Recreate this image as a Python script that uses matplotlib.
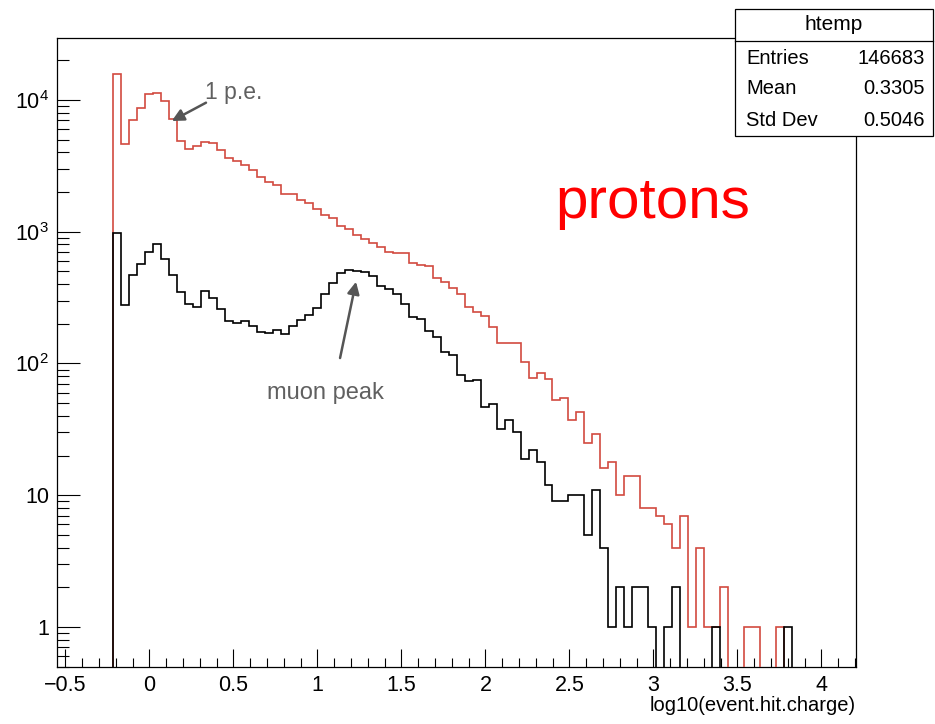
import numpy as np
import matplotlib
matplotlib.use('Agg')
import matplotlib.pyplot as plt
from matplotlib.ticker import (FixedLocator, FixedFormatter, MultipleLocator, LogLocator,
                               NullFormatter, FuncFormatter)
from matplotlib.patches import Rectangle
from matplotlib.lines import Line2D

FONT = 'Liberation Sans'
plt.rcParams['font.family'] = [FONT, 'DejaVu Sans']
plt.rcParams['mathtext.fontset'] = 'custom'
plt.rcParams['mathtext.rm'] = FONT
plt.rcParams['mathtext.it'] = FONT + ':italic'
plt.rcParams['mathtext.bf'] = FONT + ':bold'

# ---------------- data ----------------
n_bins = 100
x_min, x_max = -0.548, 4.206
first_bin = 7  # index of first filled bin

proton_counts = [15700, 4620, 7030, 8730, 11000, 11350, 9870, 7120, 4900, 4260,
                 4490, 4820, 4730, 4170, 3610, 3440, 3190, 2940, 2610, 2380,
                 2250, 1930, 1930, 1740, 1660, 1500, 1330, 1270, 1100, 1040,
                 942, 873, 824, 768, 704, 691, 684, 581, 558, 551,
                 442, 414, 377, 334, 266, 247, 231, 190, 144, 144,
                 144, 103, 77, 84, 76, 53, 55, 37, 43, 25,
                 29, 16, 18, 10, 14, 14, 8, 8, 7, 6,
                 4, 7, 1, 4, 1, 1, 2, 0, 0, 1,
                 1, 0, 0, 1, 0]

muon_counts = [971, 276, 471, 565, 700, 800, 622, 471, 348, 282,
               266, 356, 315, 257, 211, 203, 211, 193, 173, 169,
               180, 166, 191, 213, 234, 263, 334, 409, 490, 515,
               505, 496, 460, 386, 369, 336, 282, 226, 217, 176,
               160, 123, 115, 82, 73, 75, 47, 49, 32, 37,
               30, 19, 22, 18, 12, 9, 9, 10, 10, 5,
               11, 4, 1, 2, 1, 2, 2, 1, 0, 1,
               2, 0, 0, 0, 0, 1, 0, 0, 0, 0,
               0, 0, 0, 0, 1]

y_tick_values = [1, 10, 100, 1000, 10000]
y_tick_labels = ['1', '10', '$10^{2}$', '$10^{3}$', '$10^{4}$']
x_label = 'log10(event.hit.charge)'

stats_title = 'htemp'
stats_names = ['Entries', 'Mean', 'Std Dev']
stats_values = ['146683', '0.3305', '0.5046']

# ---------------- build histograms ----------------
edges = np.linspace(x_min, x_max, n_bins + 1)
red = np.zeros(n_bins)
red[first_bin:first_bin + len(proton_counts)] = proton_counts
blk = np.zeros(n_bins)
blk[first_bin:first_bin + len(muon_counts)] = muon_counts

floor = 1e-3  # empty bins drawn below the visible range (log axis)

W, H = 935, 724
fig = plt.figure(figsize=(W / 100, H / 100), dpi=100)
ax_left, ax_right = 57.3 / W, 856 / W
ax_bottom, ax_top = 1 - 666.7 / H, 1 - 38 / H
ax = fig.add_axes([ax_left, ax_bottom, ax_right - ax_left, ax_top - ax_bottom])

ax.stairs(np.where(red > 0, red, floor), edges, color='#d24a40', lw=1.2, baseline=None, zorder=3)
ax.stairs(np.where(blk > 0, blk, floor), edges, color='black', lw=1.2, baseline=None, zorder=4)

ax.set_yscale('log')
ax.set_xlim(x_min, x_max)
ax.set_ylim(0.5, 10 ** 4.47)

ax.yaxis.set_major_locator(FixedLocator(y_tick_values))
ax.yaxis.set_major_formatter(FixedFormatter(y_tick_labels))
ax.yaxis.set_minor_locator(LogLocator(base=10, subs=np.arange(2, 10)))
ax.yaxis.set_minor_formatter(NullFormatter())
ax.xaxis.set_major_locator(MultipleLocator(0.5))
ax.xaxis.set_minor_locator(MultipleLocator(0.1))
ax.xaxis.set_major_formatter(FuncFormatter(lambda v, p: ('%g' % v).replace('-', '\u2212')))

ax.tick_params(axis='both', which='both', direction='in', top=False, right=False,
               width=0.8, color='black', labelsize=15.5, pad=6)
ax.tick_params(axis='x', which='major', length=13)
ax.tick_params(axis='x', which='minor', length=6.5)
ax.tick_params(axis='y', which='major', length=16.5)
ax.tick_params(axis='y', which='minor', length=8.5)
for s in ax.spines.values():
    s.set_linewidth(0.9)

ax.set_xlabel(x_label, fontsize=14.5)
ax.xaxis.set_label_coords(1.0, -0.047)
ax.xaxis.label.set_horizontalalignment('right')
ax.xaxis.label.set_verticalalignment('top')

# annotations
grey = '#555555'
ax.annotate('', xy=(0.133, 6920), xytext=(0.337, 9530),
            arrowprops=dict(arrowstyle='-|>', color=grey, lw=1.8, mutation_scale=18,
                            shrinkA=0, shrinkB=0), zorder=6)
ax.text(0.331, 11300, '1 p.e.', color='#606060', fontsize=16.5, ha='left', va='center')
ax.annotate('', xy=(1.230, 417), xytext=(1.135, 110),
            arrowprops=dict(arrowstyle='-|>', color=grey, lw=1.8, mutation_scale=18,
                            shrinkA=0, shrinkB=0), zorder=6)
ax.text(1.046, 59.6, 'muon peak', color='#606060', fontsize=17, ha='center', va='center')
ax.text(2.995, 10 ** 3.103, 'protons', color='#ff0000', fontsize=42,
        ha='center', va='baseline')

# stats box
bx0, bx1 = 735 / W, 933 / W
by0, by1 = 1 - 136 / H, 1 - 9 / H
fig.add_artist(Rectangle((bx0, by0), bx1 - bx0, by1 - by0, transform=fig.transFigure,
                         facecolor='white', edgecolor='black', lw=0.9, zorder=10))
sep_y = 1 - 41 / H
fig.add_artist(Line2D([bx0, bx1], [sep_y, sep_y], transform=fig.transFigure,
                      color='black', lw=0.9, zorder=11))
fig.text((bx0 + bx1) / 2, 1 - 25 / H, stats_title, ha='center', va='center', fontsize=15, zorder=12)
row_y = [58, 89, 120]
for name, val, ry in zip(stats_names, stats_values, row_y):
    fig.text(746 / W, 1 - ry / H, name, ha='left', va='center', fontsize=14.5, zorder=12)
    fig.text(925 / W, 1 - ry / H, val, ha='right', va='center', fontsize=14.5, zorder=12)

fig.savefig('out.png', dpi=100)
